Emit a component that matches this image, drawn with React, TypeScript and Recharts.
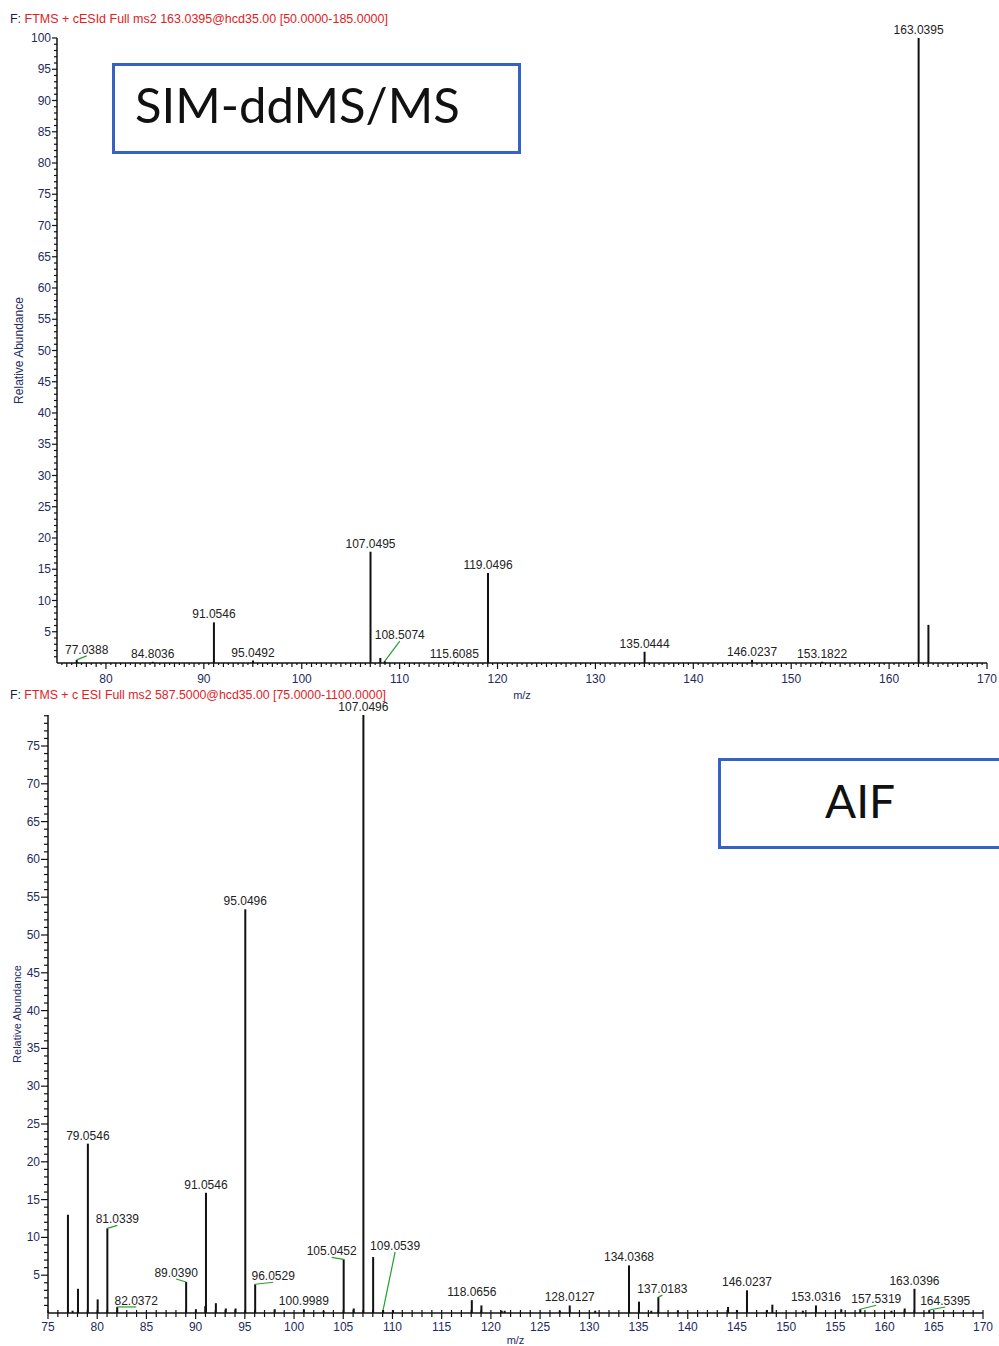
import React from 'react';
import { BarChart, Bar, XAxis, YAxis, LabelList, Label } from 'recharts';

// SIM-ddMS/MS spectrum (top)
const simMz = [77.0388, 84.8036, 91.0546, 95.0492, 107.0495, 108.05, 108.5074, 115.6085, 119.0496, 135.0444, 146.0237, 153.1822, 163.0395, 164.04];
const simAbundance = [0.5, 0.2, 6.5, 0.4, 17.8, 0.8, 0.3, 0.2, 14.4, 1.8, 0.5, 0.2, 100, 6.1];
const simLabels = ['77.0388', '84.8036', '91.0546', '95.0492', '107.0495', '', '108.5074', '115.6085', '119.0496', '135.0444', '146.0237', '153.1822', '163.0395', ''];

// AIF spectrum (bottom)
const aifMz = [77.03, 77.5, 78.05, 79.0546, 80.05, 81.0339, 82.0372, 89.039, 90.03, 90.98, 91.0546, 92.06, 93.07, 94.06, 95.0496, 96.0529, 98.04, 100.9989, 103.0, 105.0452, 106.07, 107.0496, 108.04, 109.0539, 110.06, 118.0656, 119.04, 121.1, 121.4, 127.0, 128.0127, 130.6, 134.0368, 135.05, 136.3, 137.0183, 139.0, 144.1, 145.0, 146.0237, 148.05, 148.6, 151.7, 153.0316, 155.6, 157.5319, 160.7, 162.05, 163.0396, 164.5395];
const aifAbundance = [13.0, 0.3, 3.2, 22.4, 1.8, 11.2, 0.8, 4.1, 0.5, 0.9, 15.9, 1.3, 0.6, 0.6, 53.4, 3.8, 0.5, 0.5, 0.3, 7.1, 0.6, 79.1, 7.4, 0.4, 0.4, 1.7, 1.0, 0.3, 0.3, 0.3, 1.0, 0.3, 6.3, 1.5, 0.3, 2.1, 0.3, 0.8, 0.4, 3.0, 0.4, 1.1, 0.3, 1.0, 0.5, 0.5, 0.3, 0.6, 3.2, 0.4];
const aifLabels = ['', '', '', '79.0546', '', '81.0339', '82.0372', '89.0390', '', '', '91.0546', '', '', '', '95.0496', '96.0529', '', '100.9989', '', '105.0452', '', '107.0496', '', '109.0539', '', '118.0656', '', '', '', '', '128.0127', '', '134.0368', '', '', '137.0183', '', '', '', '146.0237', '', '', '', '153.0316', '', '157.5319', '', '', '163.0396', '164.5395'];

// axis tick labels
const simYTicks = [5, 10, 15, 20, 25, 30, 35, 40, 45, 50, 55, 60, 65, 70, 75, 80, 85, 90, 95, 100];
const simXTicks = [80, 90, 100, 110, 120, 130, 140, 150, 160, 170];
const aifYTicks = [5, 10, 15, 20, 25, 30, 35, 40, 45, 50, 55, 60, 65, 70, 75];
const aifXTicks = [75, 80, 85, 90, 95, 100, 105, 110, 115, 120, 125, 130, 135, 140, 145, 150, 155, 160, 165, 170];

const simTitle = 'FTMS + cESId Full ms2 163.0395@hcd35.00 [50.0000-185.0000]';
const aifTitle = 'FTMS + c ESI Full ms2 587.5000@hcd35.00 [75.0000-1100.0000]';

// label offsets (px) for labels pulled away from their peak, drawn with a green leader
const simNudge: Record<string, [number, number]> = { '77.0388': [10, -2], '108.5074': [15, -18] };
const aifNudge: Record<string, [number, number]> = {
  '81.0339': [10, -1], '82.0372': [19, 2], '89.0390': [-10, -1], '96.0529': [18, 0],
  '105.0452': [-12, 0], '109.0539': [12, -56], '137.0183': [4, 0], '157.5319': [16, -2], '164.5395': [16, -1],
};

const FONT = '"Liberation Sans", Arial, sans-serif';
const TICK_COLOR = '#1e2b5e';

const simData = simMz.map((mz, i) => ({ mz, ab: simAbundance[i], label: simLabels[i] }));
const aifData = aifMz.map((mz, i) => ({ mz, ab: aifAbundance[i], label: aifLabels[i] }));

const range = (from: number, to: number, step: number) => {
  const out: number[] = [];
  for (let v = from; v <= to + 1e-9; v += step) out.push(Math.round(v * 10) / 10);
  return out;
};

// stick: fixed 2px line centred on the bar slot the library computes
const Stick = (props: any) => {
  const { x, y, width, height } = props;
  if (!height) return null;
  const cx = Number(x) + Number(width) / 2;
  return <rect x={cx - 1} y={y} width={2} height={height} fill="#111" />;
};

const peakLabel = (nudge: Record<string, [number, number]>) => (props: any) => {
  const { x, y, width, value } = props;
  if (!value) return null;
  const px = Number(x) + Number(width) / 2;
  const n = nudge[value];
  const dx = n ? n[0] : 0;
  const dy = n ? n[1] : 0;
  const cx = px + dx;
  const by = Number(y) - 4 + dy;
  return (
    <g>
      {n && <line x1={px} y1={y} x2={cx} y2={by + 2} stroke="#22a02a" strokeWidth={1.2} />}
      <text x={cx} y={by} textAnchor="middle" fontSize={12} fill="#222" fontFamily={FONT}>
        {value}
      </text>
    </g>
  );
};

const yTick = (majors: number[], minorLen: number, majorLen: number) => (props: any) => {
  const { x, y, payload } = props;
  const v = payload.value;
  const major = majors.includes(v);
  const len = major ? majorLen : minorLen;
  return (
    <g>
      <line x1={x} y1={y} x2={x - len} y2={y} stroke="#111" strokeWidth={1.2} />
      {major && (
        <text x={x - len - 1} y={y + 4} textAnchor="end" fontSize={12} fill={TICK_COLOR} fontFamily={FONT}>
          {v}
        </text>
      )}
    </g>
  );
};

const simXTick = (props: any) => {
  const { x, y, payload } = props;
  const v = payload.value;
  const major = simXTicks.includes(v);
  const len = major ? 6 : Number.isInteger(v) ? 4 : 2;
  return (
    <g>
      <line x1={x} y1={y} x2={x} y2={y + len} stroke="#111" strokeWidth={1.2} />
      {major && (
        <text x={x} y={y + 20} textAnchor="middle" fontSize={12} fill={TICK_COLOR} fontFamily={FONT}>
          {v}
        </text>
      )}
    </g>
  );
};

const aifXTick = (props: any) => {
  const { x, y, payload } = props;
  const v = payload.value;
  const major = aifXTicks.includes(v);
  return (
    <g>
      <line x1={x} y1={y - 3} x2={x} y2={y + (major ? 6 : 4)} stroke="#111" strokeWidth={1.2} />
      {major && (
        <text x={x} y={y + 18} textAnchor="middle" fontSize={12} fill={TICK_COLOR} fontFamily={FONT}>
          {v}
        </text>
      )}
    </g>
  );
};

const yTitle = (xPos: number, size: number) => (props: any) => {
  const vb = props.viewBox;
  const cy = vb.y + vb.height / 2;
  return (
    <text x={xPos} y={cy} transform={`rotate(-90 ${xPos} ${cy})`} textAnchor="middle" fontSize={size} fill={TICK_COLOR} fontFamily={FONT}>
      Relative Abundance
    </text>
  );
};

const xTitle = (dy: number) => (props: any) => {
  const vb = props.viewBox;
  return (
    <text x={vb.x + vb.width / 2} y={vb.y + dy} textAnchor="middle" fontSize={11} fill={TICK_COLOR} fontFamily={FONT}>
      m/z
    </text>
  );
};

export default function App() {
  return (
    <div style={{ position: 'absolute', left: 0, top: 0, width: 999, height: 1346, background: '#fff', overflow: 'hidden' }}>
      <div style={{ position: 'absolute', left: 0, top: 0 }}>
        <BarChart width={999} height={705} data={simData} margin={{ top: 38, right: 12, bottom: 0, left: 0 }}>
          <XAxis
            dataKey="mz"
            type="number"
            domain={[75, 170]}
            allowDataOverflow
            ticks={range(75.5, 170, 0.5)}
            interval={0}
            tickSize={0}
            tickMargin={0}
            tick={simXTick}
            height={42}
            axisLine={{ stroke: '#111', strokeWidth: 1.5 }}
          >
            <Label content={xTitle(36)} />
          </XAxis>
          <YAxis
            type="number"
            domain={[0, 100]}
            allowDataOverflow
            ticks={range(1, 100, 1)}
            interval={0}
            tickSize={0}
            tickMargin={0}
            tick={yTick(simYTicks, 3, 5)}
            width={57}
            axisLine={{ stroke: '#111', strokeWidth: 1.5 }}
          >
            <Label content={yTitle(23, 12)} />
          </YAxis>
          <Bar dataKey="ab" fill="#111" barSize={2} shape={Stick} isAnimationActive={false}>
            <LabelList dataKey="label" content={peakLabel(simNudge)} />
          </Bar>
        </BarChart>
      </div>

      <div style={{ position: 'absolute', left: 0, top: 680 }}>
        <BarChart width={999} height={666} data={aifData} margin={{ top: 35, right: 16, bottom: 0, left: 0 }}>
          <XAxis
            dataKey="mz"
            type="number"
            domain={[75, 170]}
            allowDataOverflow
            ticks={range(75, 170, 1)}
            interval={0}
            tickSize={0}
            tickMargin={0}
            tick={aifXTick}
            height={33}
            axisLine={{ stroke: '#111', strokeWidth: 1.5 }}
          >
            <Label content={xTitle(31)} />
          </XAxis>
          <YAxis
            type="number"
            domain={[0, 79.1]}
            allowDataOverflow
            ticks={range(1, 79, 1)}
            interval={0}
            tickSize={0}
            tickMargin={0}
            tick={yTick(aifYTicks, 4, 7)}
            width={48}
            axisLine={{ stroke: '#111', strokeWidth: 1.5 }}
          >
            <Label content={yTitle(21, 11)} />
          </YAxis>
          <Bar dataKey="ab" fill="#111" barSize={2} shape={Stick} isAnimationActive={false}>
            <LabelList dataKey="label" content={peakLabel(aifNudge)} />
          </Bar>
        </BarChart>
      </div>

      <svg width={999} height={1346} style={{ position: 'absolute', left: 0, top: 0, pointerEvents: 'none' }}>
        <text x={10} y={23} fontSize={12} fontFamily={FONT} textLength={378} lengthAdjust="spacingAndGlyphs">
          <tspan fill="#1a1a50">F: </tspan>
          <tspan fill="#e0221f">{simTitle}</tspan>
        </text>
        <text x={10} y={699} fontSize={12} fontFamily={FONT} textLength={376} lengthAdjust="spacingAndGlyphs">
          <tspan fill="#1a1a50">F: </tspan>
          <tspan fill="#e0221f">{aifTitle}</tspan>
        </text>

        <rect x={113.5} y={64.5} width={406} height={88} fill="#fff" stroke="#3563c4" strokeWidth={3} />
        <text x={135} y={123} fontSize={49} fontFamily="Lato, 'Open Sans', sans-serif" fill="#111">
          SIM-ddMS/MS
        </text>

        <rect x={719.5} y={759.5} width={300} height={88} fill="#fff" stroke="#3563c4" strokeWidth={3} />
        <text x={825} y={818} fontSize={46} fontFamily="Lato, 'Open Sans', sans-serif" fill="#111">
          AIF
        </text>
      </svg>
    </div>
  );
}
